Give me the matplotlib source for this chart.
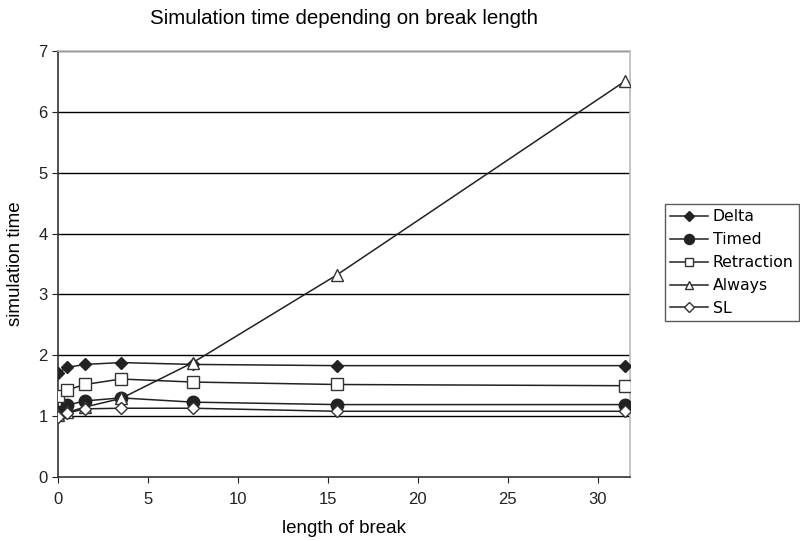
import matplotlib
matplotlib.use("Agg")
import matplotlib.pyplot as plt

x = [0, 0.5, 1.5, 3.5, 7.5, 15.5, 31.5]
delta = [1.71, 1.80, 1.85, 1.88, 1.85, 1.83, 1.83]
timed = [1.07, 1.18, 1.25, 1.30, 1.23, 1.19, 1.19]
retraction = [1.33, 1.43, 1.52, 1.61, 1.56, 1.52, 1.50]
always = [1.02, 1.06, 1.15, 1.29, 1.88, 3.32, 6.50]
sl = [0.98, 1.05, 1.12, 1.13, 1.13, 1.08, 1.08]

series = [
    ("Delta", delta, dict(marker="D", markersize=6, markerfacecolor="#222222", markeredgecolor="#222222")),
    ("Timed", timed, dict(marker="o", markersize=9, markerfacecolor="#222222", markeredgecolor="#222222")),
    ("Retraction", retraction, dict(marker="s", markersize=8, markerfacecolor="white", markeredgecolor="#333333")),
    ("Always", always, dict(marker="^", markersize=8, markerfacecolor="white", markeredgecolor="#333333")),
    ("SL", sl, dict(marker="D", markersize=6, markerfacecolor="white", markeredgecolor="#333333")),
]

plt.rcParams['font.family'] = ['Liberation Sans', 'DejaVu Sans']

fig = plt.figure(figsize=(8, 5.41), dpi=100)
ax = fig.add_axes([58/800, 1-477/541, (630-58)/800, (477-51)/541])

for yv in range(1, 8):
    ax.axhline(yv, color="black", lw=1.0, zorder=1)

lines = []
for name, vals, st in series:
    l, = ax.plot(x, vals, color="#222222", lw=1.1, label=name, zorder=3, **st)
    lines.append(l)

ax.set_xlim(0, 31.8)
ax.set_ylim(0, 7)
ax.set_xticks([0, 5, 10, 15, 20, 25, 30])
ax.set_yticks(range(0, 8))
ax.tick_params(direction="out", length=4, labelsize=12, colors="#222222")
ax.tick_params(axis="x", pad=7)
for s in ["left", "bottom"]:
    ax.spines[s].set_color("#333333")
    ax.spines[s].set_linewidth(1.2)
for s in ["top", "right"]:
    ax.spines[s].set_color("#bbbbbb")
    ax.spines[s].set_linewidth(1.2)

ax.set_xlabel("length of break", fontsize=13.5, labelpad=9)
ax.set_ylabel("simulation time", fontsize=13.5, labelpad=10)
fig.text(344/800, 1-18/541, "Simulation time depending on break length", ha="center", va="center", fontsize=14.8)

leg = fig.legend(handles=lines, loc="upper left", bbox_to_anchor=(665/800, 1-204/541),
                 prop={'family': 'DejaVu Sans', 'size': 11.3}, frameon=True, fancybox=False,
                 edgecolor="#333333", borderpad=0.35, labelspacing=0.5, handlelength=2.4,
                 handletextpad=0.3, borderaxespad=0)
leg.get_frame().set_linewidth(1.0)
for h in leg.legend_handles:
    h.set_markersize(h.get_markersize() * 0.8)

fig.savefig("out.png", dpi=100)
